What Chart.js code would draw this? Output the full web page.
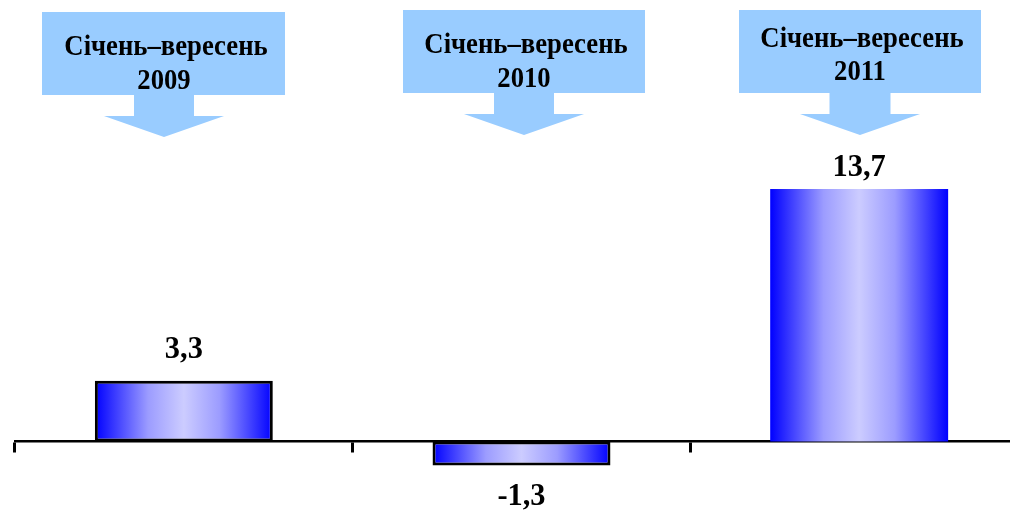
<!DOCTYPE html>
<html>
<head>
<meta charset="utf-8">
<script src="https://cdn.jsdelivr.net/npm/chart.js@4.4.0/dist/chart.umd.min.js"></script>
<style>
  html, body { margin: 0; padding: 0; background: #fff; overflow: hidden; }
  #wrap { position: relative; width: 1028px; height: 512px; }
</style>
</head>
<body>
<div id="wrap"><canvas id="barChart"></canvas></div>
<script>
// Data
var periods = ["Січень–вересень 2009", "Січень–вересень 2010", "Січень–вересень 2011"];
var periodLines = [["Січень–вересень", "2009"], ["Січень–вересень", "2010"], ["Січень–вересень", "2011"]];
var growth = [3.3, -1.3, 13.7];

var BAR_PCT = 0.527;
var SERIF = "'Liberation Serif', 'Times New Roman', serif";

// Callout arrows above the bars (box, stem, head)
var callouts = [
  { left: 42, top: 12, w: 243, h: 83, cx: 164, stemW: 60, stemBottom: 116, headW: 120, tip: 137, line1: 55, line2: 89 },
  { left: 403, top: 10, w: 242, h: 83, cx: 524, stemW: 60, stemBottom: 114, headW: 120, tip: 135, line1: 53, line2: 87 },
  { left: 739, top: 10, w: 242, h: 83, cx: 860, stemW: 61, stemBottom: 114, headW: 120, tip: 135, line1: 47, line2: 80 }
];

// Horizontal "cylinder" gradient for each bar
function barGradient(c) {
  var chart = c.chart;
  var xs = chart.scales.x;
  if (!chart.chartArea || !xs) return "#0000ff";
  var cx = xs.getPixelForValue(c.dataIndex);
  var half = (xs.width / growth.length) * BAR_PCT / 2;
  var g = chart.ctx.createLinearGradient(cx - half, 0, cx + half, 0);
  g.addColorStop(0, "#0000ff");
  g.addColorStop(0.3, "#9c9cff");
  g.addColorStop(0.5, "#ccccff");
  g.addColorStop(0.7, "#9c9cff");
  g.addColorStop(1, "#0000ff");
  return g;
}

// condensed bold serif text, like the original
function squeezedText(ctx, txt, x, y, size, sx) {
  ctx.save();
  ctx.translate(x, y);
  ctx.scale(sx, 1);
  ctx.font = "bold " + size + "px " + SERIF;
  ctx.fillText(txt, 0, 0);
  ctx.restore();
}

var calloutPlugin = {
  id: "callouts",
  afterDraw: function (chart) {
    var ctx = chart.ctx;
    ctx.save();
    for (var i = 0; i < callouts.length; i++) {
      var c = callouts[i];
      ctx.fillStyle = "#99ccff";
      ctx.fillRect(c.left, c.top, c.w, c.h);
      var bottom = c.top + c.h;
      ctx.beginPath();
      ctx.moveTo(c.cx - c.stemW / 2, bottom);
      ctx.lineTo(c.cx + c.stemW / 2, bottom);
      ctx.lineTo(c.cx + c.stemW / 2, c.stemBottom);
      ctx.lineTo(c.cx + c.headW / 2, c.stemBottom);
      ctx.lineTo(c.cx, c.tip);
      ctx.lineTo(c.cx - c.headW / 2, c.stemBottom);
      ctx.lineTo(c.cx - c.stemW / 2, c.stemBottom);
      ctx.closePath();
      ctx.fill();
      ctx.fillStyle = "#000";
      ctx.textAlign = "center";
      ctx.textBaseline = "alphabetic";
      squeezedText(ctx, periodLines[i][0], c.cx + 2, c.line1, 30, 0.89);
      squeezedText(ctx, periodLines[i][1], c.cx, c.line2, 29, 0.92);
    }
    ctx.restore();
  }
};

var valueLabels = {
  id: "valueLabels",
  afterDatasetsDraw: function (chart) {
    var ctx = chart.ctx;
    var meta = chart.getDatasetMeta(0);
    ctx.save();
    ctx.fillStyle = "#000";
    ctx.textAlign = "center";
    ctx.textBaseline = "middle";
    meta.data.forEach(function (bar, i) {
      var v = growth[i];
      var txt = String(v).replace(".", ",");
      var y;
      if (v >= 0) {
        y = Math.max(bar.y - 31, chart.chartArea.top + 14);
      } else {
        y = bar.y + 31;
      }
      squeezedText(ctx, txt, bar.x, y, 32, 0.95);
    });
    ctx.restore();
  }
};

var ctx = document.getElementById("barChart").getContext("2d");
var myChart = new Chart(ctx, {
  type: "bar",
  data: {
    labels: periods,
    datasets: [
      {
        label: "Growth",
        data: growth,
        backgroundColor: barGradient,
        borderColor: ["#000000", "#000000", "rgba(0,0,0,0)"],
        borderWidth: [3, 3, 0],
        borderSkipped: false,
        barPercentage: BAR_PCT,
        categoryPercentage: 1
      }
    ]
  },
  options: {
    responsive: true,
    maintainAspectRatio: false,
    animation: false,
    layout: { padding: { left: 15, right: 0, top: 154, bottom: 6 } },
    plugins: {
      legend: { display: false },
      tooltip: { enabled: false }
    },
    scales: {
      x: {
        position: { y: 0 },
        ticks: { display: false },
        grid: {
          display: true,
          drawOnChartArea: false,
          drawTicks: true,
          tickLength: 10,
          color: "#000",
          lineWidth: 3
        },
        border: { display: true, color: "#000", width: 2.5 }
      },
      y: {
        display: false,
        min: -3.5,
        max: 15.6
      }
    }
  },
  plugins: [calloutPlugin, valueLabels]
});
</script>
</body>
</html>
